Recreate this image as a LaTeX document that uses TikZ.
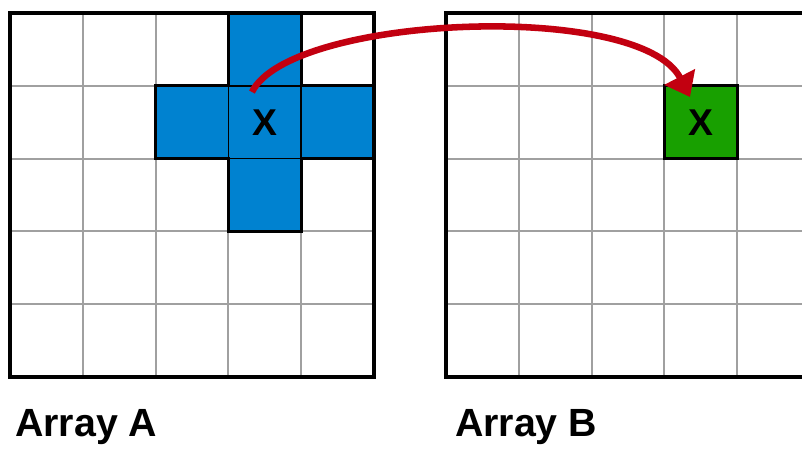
\documentclass[tikz,border=0pt]{standalone}
\usepackage{fontspec}
\setmainfont{Liberation Sans}
\usetikzlibrary{arrows.meta}
\definecolor{crossblue}{HTML}{0082D0}
\definecolor{cellgreen}{HTML}{18A000}
\definecolor{arrowred}{HTML}{C20010}
\definecolor{gridgray}{HTML}{A0A0A0}
\begin{document}
\begin{tikzpicture}[
    x=54.6pt,
    y=-54.6pt,
    gridline/.style={gridgray,line width=1.5pt},
    border/.style={black,line width=2.4pt},
    innerline/.style={black,line width=1.2pt},
    xmark/.style={font=\fontsize{28}{32}\selectfont\bfseries,inner sep=0pt},
    arraylabel/.style={font=\fontsize{29.5}{34}\selectfont\bfseries,anchor=base west,inner sep=0pt},
    moveto/.style={-{Triangle[length=17pt,width=25pt]},arrowred,line width=4.9pt}
  ]
    \useasboundingbox (-0.137,-0.179) rectangle (10.879,5.989);
    \fill[white] (-0.137,-0.179) rectangle (10.879,5.989);

    \foreach \ox in {0,5.99}
      \foreach \k in {1,...,4} {
        \draw[gridline] (\ox+\k,0) -- (\ox+\k,5);
        \draw[gridline] (\ox,\k) -- (\ox+5,\k);
      }

    \fill[crossblue]
      (3,0) -- (4,0) -- (4,1) -- (5,1) -- (5,2) -- (4,2) -- (4,3)
      -- (3,3) -- (3,2) -- (2,2) -- (2,1) -- (3,1) -- cycle;
    \draw[innerline] (3,1) rectangle (4,2);

    \foreach \ox in {0,5.99}
      \draw[border] (\ox,0) rectangle (\ox+5,5);

    \draw[border,line join=miter]
      (3,0) -- (4,0) -- (4,1) -- (5,1) -- (5,2) -- (4,2) -- (4,3)
      -- (3,3) -- (3,2) -- (2,2) -- (2,1) -- (3,1) -- cycle;

    \fill[cellgreen] (8.99,1) rectangle (9.99,2);
    \draw[border] (8.99,1) rectangle (9.99,2);

    \node[xmark] (xa) at (3.5,1.5) {X};
    \node[xmark] (xb) at (9.49,1.5) {X};

    \coordinate (from) at (3.324,1.085);
    \coordinate (to) at (9.341,1.154);
    \draw[moveto] (from) .. controls (3.846,0.027) and (8.654,-0.179) .. (to);

    \node[arraylabel] (labela) at (0.069,5.81) {Array A};
    \node[arraylabel] (labelb) at (6.11,5.81) {Array B};
  \end{tikzpicture}
\end{document}
